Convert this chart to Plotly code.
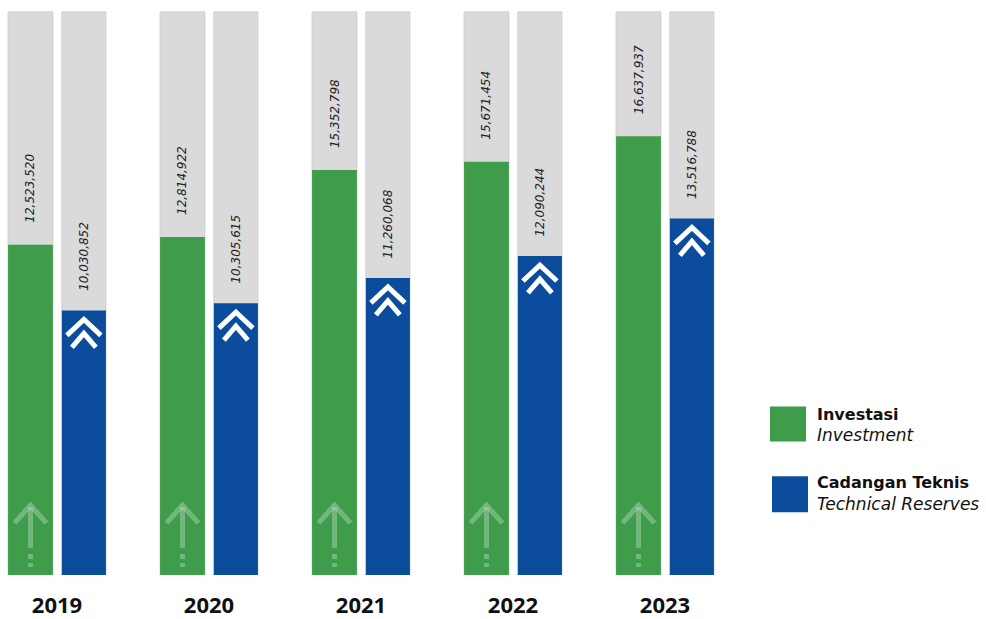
import plotly.graph_objects as go

years = ["2019", "2020", "2021", "2022", "2023"]
investasi = [12523520, 12814922, 15352798, 15671454, 16637937]
cadangan = [10030852, 10305615, 11260068, 12090244, 13516788]
background_max = 21350000

GREEN = "#3f9c4b"
BLUE = "#0b4d9c"
GRAY = "#dadada"

Y_MAX = 21.8e6
PLOT_H = 577.0
PX_Y = Y_MAX / PLOT_H      # data units per pixel (y)
PX_X = 1 / 152.0           # data units per pixel (x)

W_G, OFF_G = 0.295, -0.322
W_B, OFF_B = 0.29, 0.032

xs = list(range(len(years)))
cg = [x + OFF_G + W_G / 2 for x in xs]
cb = [x + OFF_B + W_B / 2 for x in xs]

fig = go.Figure()
common = dict(marker_line_color="#d0d0d0", marker_line_width=1, hoverinfo="skip", showlegend=False)
fig.add_trace(go.Bar(x=xs, y=[background_max] * len(xs), width=W_G, offset=OFF_G,
                     marker_color=GRAY, **common))
fig.add_trace(go.Bar(x=xs, y=[background_max] * len(xs), width=W_B, offset=OFF_B,
                     marker_color=GRAY, **common))
fig.add_trace(go.Bar(x=xs, y=investasi, width=W_G, offset=OFF_G, name="Investasi",
                     marker_color=GREEN, marker_line_width=0, showlegend=False))
fig.add_trace(go.Bar(x=xs, y=cadangan, width=W_B, offset=OFF_B, name="Cadangan Teknis",
                     marker_color=BLUE, marker_line_width=0, showlegend=False))

# decorative chevrons on blue bars
chx, chy = [], []
for c, v in zip(cb, cadangan):
    top = v
    for apex, arm, hw in [(9, 25, 17), (23, 37, 12)]:
        chx += [c - hw * PX_X, c, c + hw * PX_X, None]
        chy += [top - arm * PX_Y, top - apex * PX_Y, top - arm * PX_Y, None]
fig.add_trace(go.Scatter(x=chx, y=chy, mode="lines", line=dict(color="white", width=5),
                         hoverinfo="skip", showlegend=False))

# faded arrows at the bottom of green bars
ax, ay = [], []
for c in cg:
    ax += [c - 16 * PX_X, c, c + 16 * PX_X, None]
    ay += [52 * PX_Y, 70 * PX_Y, 52 * PX_Y, None]
    ax += [c, c, None, c, c, None, c, c, None]
    ay += [68 * PX_Y, 27 * PX_Y, None, 21 * PX_Y, 16 * PX_Y, None, 12 * PX_Y, 8 * PX_Y, None]
fig.add_trace(go.Scatter(x=ax, y=ay, mode="lines",
                         line=dict(color="rgba(255,255,255,0.28)", width=5),
                         hoverinfo="skip", showlegend=False))

LABEL_FONT = dict(size=12, color="#222222", family="DejaVu Sans")
annotations = []
for c, v in zip(cg, investasi):
    annotations.append(dict(x=c, y=v, xref="x", yref="y", text=f"<i>{v:,}</i>",
                            textangle=-90, showarrow=False, yanchor="bottom", xanchor="center",
                            yshift=20, font=LABEL_FONT))
for c, v in zip(cb, cadangan):
    annotations.append(dict(x=c, y=v, xref="x", yref="y", text=f"<i>{v:,}</i>",
                            textangle=-90, showarrow=False, yanchor="bottom", xanchor="center",
                            yshift=18, font=LABEL_FONT))

# legend
def py(p):
    return (PLOT_H - p) / PLOT_H

shapes = [
    dict(type="rect", xref="paper", yref="paper", x0=770 / 986, x1=806 / 986, y0=py(443), y1=py(408),
         fillcolor=GREEN, line=dict(width=0)),
    dict(type="rect", xref="paper", yref="paper", x0=772 / 986, x1=808 / 986, y0=py(514), y1=py(478),
         fillcolor=BLUE, line=dict(width=0)),
]
leg_font_b = dict(size=16, color="#111111", family="DejaVu Sans")
leg_font_i = dict(size=17, color="#111111", family="DejaVu Sans")
for txt, p, f in [("<b>Investasi</b>", 416, leg_font_b), ("<i>Investment</i>", 437, leg_font_i),
                  ("<b>Cadangan Teknis</b>", 484, leg_font_b), ("<i>Technical Reserves</i>", 506, leg_font_i)]:
    annotations.append(dict(x=815 / 986, y=py(p), xref="paper", yref="paper", text=txt,
                            showarrow=False, xanchor="left", yanchor="middle", font=f))

fig.update_layout(
    width=986, height=619,
    margin=dict(l=0, r=0, t=0, b=42),
    paper_bgcolor="white", plot_bgcolor="white",
    barmode="overlay",
    xaxis=dict(range=[-57 / 152, (986 - 57) / 152], tickvals=xs, ticktext=[f"<b>{y}</b>" for y in years],
               showgrid=False, zeroline=False, showline=False, ticks="",
               tickfont=dict(size=22, color="#111111", family="Open Sans"), ticklabelstandoff=15),
    yaxis=dict(range=[0, Y_MAX], visible=False, showgrid=False),
    shapes=shapes,
    annotations=annotations,
)

fig.write_html("out.html")
